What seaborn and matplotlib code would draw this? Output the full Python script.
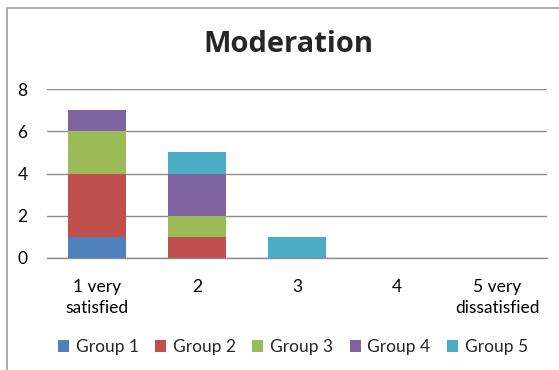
import matplotlib
matplotlib.use("Agg")
import matplotlib.pyplot as plt
import matplotlib.patches as mpatches
import numpy as np
import pandas as pd
import seaborn as sns

categories = ["1 very\nsatisfied", "2", "3", "4", "5 very\ndissatisfied"]
groups = ["Group 1", "Group 2", "Group 3", "Group 4", "Group 5"]
group1 = [1, 0, 0, 0, 0]
group2 = [3, 1, 0, 0, 0]
group3 = [2, 1, 0, 0, 0]
group4 = [1, 2, 0, 0, 0]
group5 = [0, 1, 1, 0, 0]
colors = ["#4F81BD", "#C0504D", "#9BBB59", "#8064A2", "#4BACC6"]
yticks = [0, 2, 4, 6, 8]

sns.set_theme(style="white")
plt.rcParams["font.family"] = ["Lato", "DejaVu Sans"]

fig = plt.figure(figsize=(5.59, 3.70), dpi=100)
ax = fig.add_axes([47 / 559, 1 - 258 / 370, 500 / 559, 169 / 370])

series = [group1, group2, group3, group4, group5]
bottom = np.zeros(len(categories))
for name, vals, col in zip(groups, series, colors):
    df = pd.DataFrame({"category": categories, "value": vals})
    sns.barplot(data=df, x="category", y="value", bottom=bottom, color=col,
                width=0.58, ax=ax, saturation=1, linewidth=0, order=categories)
    bottom = bottom + np.array(vals)

ax.set_ylim(0, 8)
ax.set_xlim(-0.5, 4.5)
ax.set_yticks(yticks)
ax.yaxis.grid(True, color="#8C8C8C", linewidth=1.0)
ax.set_axisbelow(True)
for s in ["top", "right", "left"]:
    ax.spines[s].set_visible(False)
ax.spines["bottom"].set_color("#8C8C8C")
ax.spines["bottom"].set_linewidth(1.0)
ax.set_xlabel("")
ax.set_ylabel("")
ax.tick_params(axis="both", length=0, labelsize=12.5, colors="black")
ax.tick_params(axis="x", pad=15)
ax.tick_params(axis="y", pad=14)
for lbl in ax.get_xticklabels():
    lbl.set_linespacing(1.38)

fig.text(288 / 559, 1 - 45 / 370, "Moderation", ha="center", va="center",
         fontsize=21, fontweight="bold", family=["Open Sans", "DejaVu Sans"])

handles = [mpatches.Patch(facecolor=c, edgecolor="none", label=g)
           for g, c in zip(groups, colors)]
fig.legend(handles=handles, loc="center", bbox_to_anchor=(293 / 559, 1 - 347 / 370),
           ncol=5, frameon=False, fontsize=12.5, handlelength=0.62, handleheight=0.62,
           handletextpad=0.4, columnspacing=0.95)

border = mpatches.Rectangle((7 / 559, -0.2), 2, 1.2 - 8 / 370, transform=fig.transFigure,
                            fill=False, edgecolor="#A6A6A6", linewidth=1.3)
fig.patches.append(border)

fig.savefig("out.png", dpi=100)
